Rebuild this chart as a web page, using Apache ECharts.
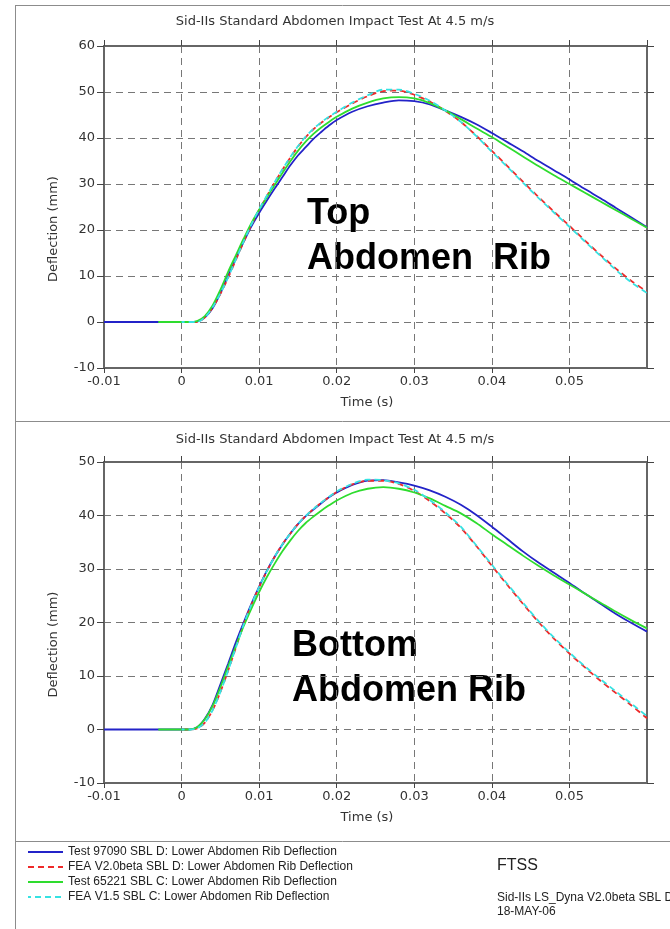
<!DOCTYPE html>
<html>
<head>
<meta charset="utf-8">
<title>Sid-IIs Abdomen Impact</title>
<script src="https://cdn.jsdelivr.net/npm/echarts@6.0.0/dist/echarts.min.js"></script>
<style>
html, body { margin: 0; padding: 0; background: #fff; }
#chart { width: 670px; height: 929px; }
</style>
</head>
<body>
<div id="chart"></div>
<script>
// time base (s) shared by all curves
var timeS = [0, 0.001, 0.002, 0.003, 0.004, 0.005, 0.006, 0.007, 0.008, 0.009, 0.010,
	0.011, 0.012, 0.013, 0.014, 0.015, 0.016, 0.017, 0.018, 0.019, 0.020,
	0.022, 0.024, 0.026, 0.028, 0.030, 0.032, 0.034, 0.036, 0.038, 0.040,
	0.042, 0.044, 0.046, 0.048, 0.050, 0.052, 0.054, 0.056, 0.058, 0.060];

// test curves have a flat lead-in before t = 0
var testDStart = -0.01;
var testCStart = -0.003;

var seriesNames = [
	'Test 97090 SBL D: Lower Abdomen Rib Deflection',
	'FEA V2.0beta SBL D: Lower Abdomen Rib Deflection',
	'Test 65221 SBL C: Lower Abdomen Rib Deflection',
	'FEA V1.5 SBL C: Lower Abdomen Rib Deflection'
];

// top abdomen rib (mm)
var topTestD = [0, 0, 0.1, 1.0, 3.0, 6.2, 10.1, 13.8, 17.4, 20.8, 23.7, 26.4, 29.0, 31.5, 34.0, 36.2, 38.0, 39.8, 41.3, 42.7, 43.9,
	45.7, 46.9, 47.7, 48.2, 48.0, 47.3, 46.0, 44.6, 43.0, 41.1, 39.1, 37.1, 35.0, 33.0, 31.0, 28.9, 26.9, 24.8, 22.7, 20.6];
var topFeaV20 = [0, 0, 0, 1.0, 3.1, 6.1, 9.6, 13.5, 17.4, 21.1, 24.4, 27.4, 30.3, 33.1, 35.7, 38.1, 40.2, 41.9, 43.3, 44.5, 45.6,
	47.5, 49.1, 50.2, 50.3, 49.4, 47.9, 45.9, 43.5, 40.5, 37.2, 33.9, 30.5, 27.2, 24.0, 20.9, 17.7, 14.6, 11.6, 8.9, 6.6];
var topTestC = [0, 0, 0.2, 1.3, 3.6, 7.0, 10.9, 14.5, 18.1, 21.5, 24.4, 27.1, 29.8, 32.4, 34.9, 37.2, 39.2, 40.9, 42.3, 43.5, 44.6,
	46.4, 47.7, 48.6, 48.9, 48.6, 47.6, 46.0, 44.1, 42.1, 40.2, 38.1, 36.0, 33.9, 31.9, 30.0, 28.1, 26.2, 24.3, 22.4, 20.5];
var topFeaV15 = [0, 0, 0, 1.0, 3.2, 6.2, 9.7, 13.6, 17.5, 21.2, 24.5, 27.5, 30.4, 33.2, 35.8, 38.2, 40.3, 42.0, 43.4, 44.6, 45.7,
	47.7, 49.3, 50.5, 50.5, 49.6, 48.1, 46.0, 43.5, 40.4, 37.0, 33.7, 30.3, 27.0, 23.8, 20.7, 17.5, 14.4, 11.3, 8.6, 6.3];

// bottom abdomen rib (mm)
var botTestD = [0, 0, 0.4, 2.0, 4.6, 8.4, 12.3, 16.3, 20.0, 23.5, 26.7, 29.7, 32.3, 34.6, 36.6, 38.4, 39.9, 41.1, 42.3, 43.4, 44.3,
	45.7, 46.5, 46.6, 46.2, 45.6, 44.7, 43.5, 42.0, 40.1, 37.9, 35.6, 33.3, 31.2, 29.3, 27.4, 25.4, 23.5, 21.6, 19.9, 18.3];
var botFeaV20 = [0, 0, 0.2, 1.3, 3.6, 7.0, 11.0, 15.3, 19.6, 23.3, 26.6, 29.6, 32.3, 34.6, 36.6, 38.4, 39.9, 41.2, 42.4, 43.4, 44.4,
	45.8, 46.5, 46.5, 45.9, 44.6, 42.7, 40.4, 37.7, 34.3, 30.6, 27.0, 23.5, 20.1, 17.0, 14.2, 11.6, 9.1, 6.8, 4.5, 2.1];
var botTestC = [0, 0, 0.4, 1.9, 4.4, 7.9, 11.8, 15.6, 19.3, 22.6, 25.7, 28.5, 31.0, 33.3, 35.3, 37.1, 38.6, 39.8, 40.9, 41.9, 42.8,
	44.2, 45.0, 45.3, 45.0, 44.3, 43.2, 41.8, 40.4, 38.6, 36.5, 34.5, 32.5, 30.6, 28.8, 27.1, 25.4, 23.7, 22.0, 20.4, 18.9];
var botFeaV15 = [0, 0, 0.2, 1.3, 3.6, 7.0, 11.0, 15.3, 19.6, 23.3, 26.6, 29.6, 32.3, 34.6, 36.6, 38.4, 39.9, 41.2, 42.4, 43.5, 44.5,
	45.9, 46.7, 46.6, 46.0, 44.8, 42.9, 40.6, 37.9, 34.4, 30.8, 27.2, 23.7, 20.3, 17.2, 14.4, 11.8, 9.4, 7.1, 4.8, 2.5];

var plotFont = 'DejaVu Sans';
var noteFont = 'Liberation Sans';
var titleText = 'Sid-IIs Standard Abdomen Impact Test At 4.5 m/s';

function toPairs(values, start) {
	var out = [];
	if (start != null) {
		out.push([start, 0]);
	}
	for (var i = 0; i < timeS.length; i++) {
		out.push([timeS[i], values[i]]);
	}
	return out;
}

var byId = function(id) {
	return document.getElementById(id);
};

var grids = [
	{ left: 104, top: 46, width: 543, height: 322 },
	{ left: 104, top: 462, width: 543, height: 321 }
];
var yMaxes = [60, 50];

var xAxes = [];
var yAxes = [];
for (var g = 0; g < 2; g++) {
	grids[g].outerBoundsMode = 'none';
	xAxes.push({
		type: 'value', gridIndex: g, min: -0.01, max: 0.06, interval: 0.01, position: 'bottom',
		name: 'Time (s)', nameLocation: 'middle', nameGap: 28,
		nameTextStyle: { fontFamily: plotFont, fontSize: 13, color: '#333', padding: [0, 17, 0, 0] },
		axisLine: { show: true, onZero: false, lineStyle: { color: '#666', width: 2 } },
		axisTick: { show: true, length: 5, lineStyle: { color: '#444' } },
		axisLabel: { fontFamily: plotFont, fontSize: 13, color: '#333', margin: 7, showMaxLabel: false },
		splitLine: { show: true, lineStyle: { color: '#777', width: 1, type: [7, 5] } }
	});
	xAxes.push({
		type: 'value', gridIndex: g, min: -0.01, max: 0.06, interval: 0.01, position: 'top',
		axisLine: { show: true, onZero: false, lineStyle: { color: '#666', width: 2 } },
		axisTick: { show: true, length: 6, lineStyle: { color: '#444' } },
		axisLabel: { show: false },
		splitLine: { show: false }
	});
	yAxes.push({
		type: 'value', gridIndex: g, min: -10, max: yMaxes[g], interval: 10, position: 'left',
		name: 'Deflection (mm)', nameLocation: 'middle', nameRotate: 90, nameGap: 44,
		nameTextStyle: { fontFamily: plotFont, fontSize: 13, color: '#333', padding: [0, 44, 0, 0] },
		axisLine: { show: true, onZero: false, lineStyle: { color: '#666', width: 2 } },
		axisTick: { show: true, length: 7, lineStyle: { color: '#444' } },
		axisLabel: { fontFamily: plotFont, fontSize: 13, color: '#333', margin: 9 },
		splitLine: { show: true, lineStyle: { color: '#777', width: 1, type: [7, 5] } }
	});
	yAxes.push({
		type: 'value', gridIndex: g, min: -10, max: yMaxes[g], interval: 10, position: 'right',
		axisLine: { show: true, onZero: false, lineStyle: { color: '#666', width: 2 } },
		axisTick: { show: true, length: 7, lineStyle: { color: '#444' } },
		axisLabel: { show: false },
		splitLine: { show: false }
	});
}

var lineStyles = [
	{ color: '#2323c8', width: 1.8, type: 'solid' },
	{ color: '#ee2a2a', width: 1.8, type: [6, 4] },
	{ color: '#2edc2e', width: 1.8, type: 'solid' },
	{ color: '#36e2e2', width: 1.8, type: [6, 4], dashOffset: 3 }
];

var panelData = [
	[toPairs(topTestD, testDStart), toPairs(topFeaV20), toPairs(topTestC, testCStart), toPairs(topFeaV15)],
	[toPairs(botTestD, testDStart), toPairs(botFeaV20), toPairs(botTestC, testCStart), toPairs(botFeaV15)]
];

var series = [];
for (var p = 0; p < 2; p++) {
	for (var s = 0; s < 4; s++) {
		series.push({
			name: seriesNames[s],
			type: 'line',
			xAxisIndex: p * 2,
			yAxisIndex: p * 2,
			data: panelData[p][s],
			symbol: 'none',
			showSymbol: false,
			smooth: 0.3,
			animation: false,
			color: lineStyles[s].color,
			lineStyle: lineStyles[s]
		});
	}
}

//frame lines and notes
var frameColor = '#8c8c8c';
function hLine(y) {
	return { type: 'line', shape: { x1: 15, y1: y, x2: 670, y2: y }, style: { stroke: frameColor, lineWidth: 1 } };
}
function note(text, x, y, size, bold) {
	return {
		type: 'text', x: x, y: y,
		style: { text: text, fill: '#000', font: (bold ? 'bold ' : '') + size + 'px "' + noteFont + '"', verticalAlign: 'middle' }
	};
}

var graphics = [
	{ type: 'line', shape: { x1: 15.5, y1: 5, x2: 15.5, y2: 929 }, style: { stroke: frameColor, lineWidth: 1 } },
	hLine(5.5), hLine(421.5), hLine(841.5),
	note('Top', 307, 214, 36, true),
	note('Abdomen  Rib', 307, 259, 36, true),
	note('Bottom', 292, 646, 36, true),
	note('Abdomen Rib', 292, 691, 36, true),
	{ type: 'text', x: 497, y: 866, style: { text: 'FTSS', fill: '#222', font: '16px "' + noteFont + '"', verticalAlign: 'middle' } },
	{ type: 'text', x: 497, y: 898, style: { text: 'Sid-IIs LS_Dyna V2.0beta SBL D', fill: '#222', font: '12px "' + noteFont + '"', verticalAlign: 'middle' } },
	{ type: 'text', x: 497, y: 912, style: { text: '18-MAY-06', fill: '#222', font: '12px "' + noteFont + '"', verticalAlign: 'middle' } }
];

var chart = echarts.init(byId('chart'));
chart.setOption({
	backgroundColor: '#fff',
	animation: false,
	title: [
		{ text: titleText, left: 'center', top: 15, padding: 0, textStyle: { fontFamily: plotFont, fontSize: 13, fontWeight: 'normal', color: '#333' } },
		{ text: titleText, left: 'center', top: 433, padding: 0, textStyle: { fontFamily: plotFont, fontSize: 13, fontWeight: 'normal', color: '#333' } }
	],
	legend: {
		data: seriesNames,
		orient: 'vertical',
		left: 27,
		top: 846,
		padding: 0,
		itemWidth: 35,
		itemHeight: 10,
		itemGap: 3,
		selectedMode: false,
		itemStyle: { opacity: 0 },
		textStyle: { fontFamily: noteFont, fontSize: 12, color: '#222' }
	},
	grid: grids,
	xAxis: xAxes,
	yAxis: yAxes,
	series: series,
	graphic: graphics
});
</script>
</body>
</html>
